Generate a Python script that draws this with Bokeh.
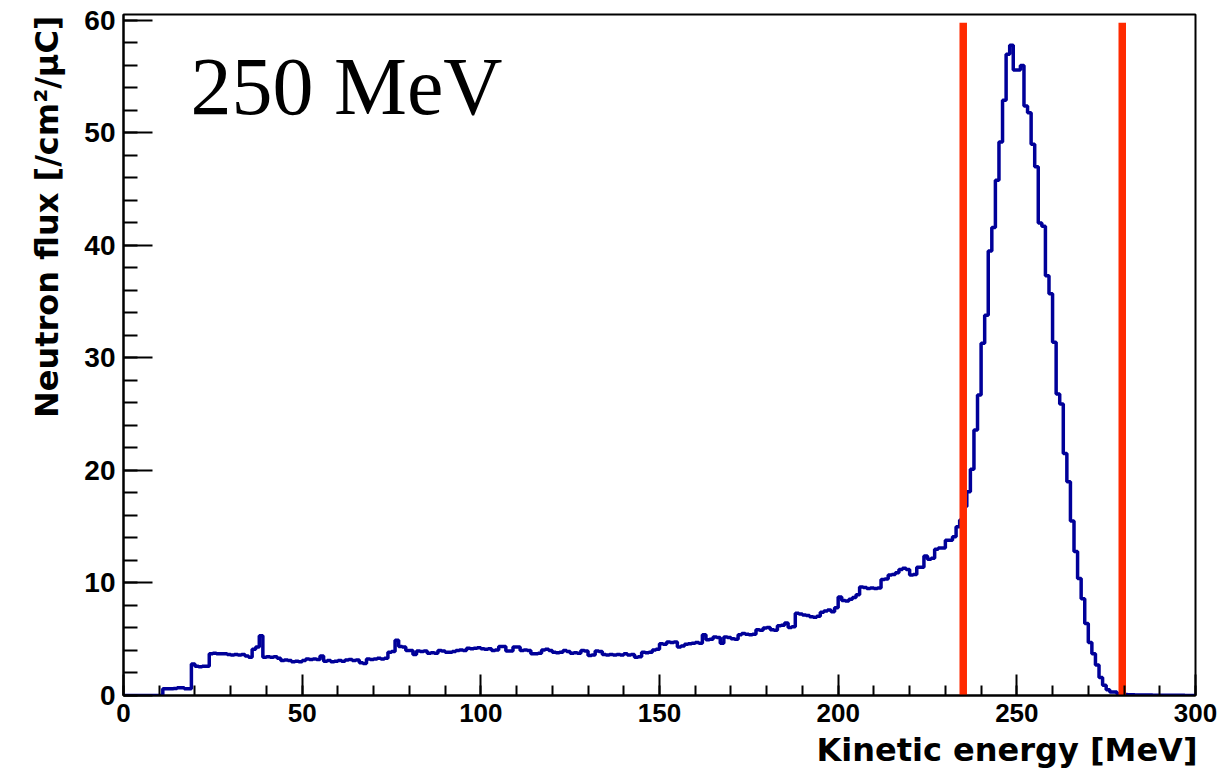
import math
from bokeh.plotting import figure
from bokeh.models import Range1d, SingleIntervalTicker, Label, Title
from bokeh.embed import file_html
from bokeh.resources import INLINE

# ---------------- data ----------------
beam_label = "250 MeV"
x_title = "Kinetic energy [MeV]"
y_title = "Neutron flux [/cm\u00b2/\u03bcC]"

x_min, x_max = 0, 300
bin_width = 1
bin_lo = list(range(x_min, x_max, bin_width))

flux = [
    0, 0, 0, 0, 0, 0, 0, 0, 0, 0,
    0, 0.6, 0.6, 0.6, 0.62, 0.68, 0.68, 0.6, 0.6, 2.8,
    2.6, 2.55, 2.6, 2.6, 3.7, 3.75, 3.7, 3.7, 3.7, 3.65,
    3.6, 3.65, 3.6, 3.65, 3.5, 3.4, 4.1, 4.3, 5.3, 3.4,
    3.45, 3.4, 3.45, 3.3, 3.1, 3.15, 3.1, 3.0, 3.05, 3.0,
    3.1, 3.25, 3.2, 3.25, 3.2, 3.5, 3.05, 3.1, 3.0, 3.05,
    3.1, 3.05, 3.15, 3.2, 3.1, 3.15, 2.9, 2.85, 3.25, 3.2,
    3.25, 3.3, 3.25, 3.3, 3.85, 3.9, 4.9, 4.35, 4.3, 4.0,
    4.0, 3.65, 3.95, 3.9, 3.95, 3.75, 3.8, 3.75, 4.0, 3.95,
    3.85, 3.85, 3.9, 4.0, 4.05, 4.0, 4.2, 4.15, 4.2, 4.25,
    4.15, 4.1, 4.15, 4.0, 4.05, 4.35, 4.35, 3.95, 3.95, 4.3,
    4.3, 4.0, 4.05, 4.0, 3.7, 3.7, 3.75, 4.05, 4.1, 4.0,
    3.85, 3.8, 3.85, 4.0, 3.9, 3.75, 3.8, 3.75, 4.0, 3.95,
    3.55, 3.6, 3.95, 3.9, 3.65, 3.6, 3.65, 3.6, 3.65, 3.6,
    3.7, 3.6, 3.65, 3.4, 3.45, 3.85, 3.8, 3.85, 4.05, 4.1,
    4.6, 4.55, 4.75, 4.7, 4.75, 4.3, 4.4, 4.55, 4.6, 4.65,
    4.7, 4.65, 5.4, 4.95, 5.0, 5.2, 5.15, 4.65, 5.2, 5.15,
    5.05, 5.0, 5.4, 5.5, 5.45, 5.4, 5.45, 5.85, 5.8, 6.0,
    6.05, 5.85, 5.8, 6.2, 6.25, 6.45, 6.05, 6.1, 7.3, 7.25,
    7.15, 7.1, 7.0, 6.95, 7.05, 7.4, 7.5, 7.6, 7.45, 7.8,
    8.75, 8.45, 8.4, 8.55, 8.7, 8.95, 9.65, 9.6, 9.5, 9.55,
    9.5, 9.55, 10.3, 10.35, 10.7, 10.75, 10.9, 11.2, 11.3, 11.2,
    10.7, 10.75, 11.4, 11.4, 12.4, 12.1, 12.2, 13.0, 13.1, 13.1,
    13.8, 13.8, 14.1, 15.0, 15.6, 16.8, 18.1, 20.1, 23.6, 26.7,
    31.3, 33.8, 39.5, 41.6, 45.8, 49.2, 52.9, 57.0, 57.8, 55.6,
    55.6, 56.0, 52.4, 51.8, 49.0, 47.0, 42.0, 41.7, 37.3, 35.7,
    31.4, 26.8, 25.9, 21.5, 19.0, 15.5, 12.8, 10.4, 8.6, 6.4,
    4.7, 3.7, 2.7, 1.6, 0.9, 0.5, 0.3, 0.3, 0.15, 0.1,
    0.08, 0.06, 0.06, 0.05, 0.05, 0.04, 0.04, 0.04, 0.03, 0.03,
    0.03, 0.03, 0.02, 0.02, 0.02, 0.02, 0.02, 0.01, 0.01, 0.01,
]

cut_energies = [235, 279.5]
cut_top = 59.8

y_min, y_max = 0, 60.53
x_major, x_minor_n = 50, 5
y_major, y_minor_n = 10, 5

# ---------------- figure ----------------
W, H = 1222, 773
LEFT, RIGHT, TOP, BOTTOM = 123, 27, 14, 78

p = figure(width=W, height=H, output_backend="svg", toolbar_location=None,
           x_range=Range1d(x_min, x_max), y_range=Range1d(y_min, y_max),
           min_border_left=LEFT, min_border_right=RIGHT,
           min_border_top=TOP, min_border_bottom=BOTTOM)
p.background_fill_color = "white"
p.border_fill_color = "white"
p.xgrid.visible = False
p.ygrid.visible = False
p.outline_line_color = "black"
p.outline_line_width = 2

p.xaxis.ticker = SingleIntervalTicker(interval=x_major, num_minor_ticks=x_minor_n)
p.yaxis.ticker = SingleIntervalTicker(interval=y_major, num_minor_ticks=y_minor_n)
for ax in (p.xaxis[0], p.yaxis[0]):
    ax.axis_line_color = "black"
    ax.axis_line_width = 2
    ax.major_tick_line_color = "black"
    ax.major_tick_line_width = 2
    ax.minor_tick_line_color = "black"
    ax.minor_tick_line_width = 2
    ax.major_tick_out = 0
    ax.minor_tick_out = 0
    ax.major_label_text_font = "Liberation Sans"
    ax.major_label_text_font_style = "bold"
    ax.major_label_text_color = "black"
    ax.axis_label = None

p.xaxis.major_tick_in = 21
p.xaxis.minor_tick_in = 10
p.xaxis.major_label_text_font_size = "26px"
p.xaxis.major_label_standoff = 8
p.yaxis.major_tick_in = 29
p.yaxis.minor_tick_in = 14
p.yaxis.major_label_text_font_size = "28px"
p.yaxis.major_label_standoff = 8

# histogram outline
p.step(x=bin_lo + [x_max], y=flux + [flux[-1]], mode="after",
       line_color="#000099", line_width=3.5)

# cut lines
p.segment(x0=cut_energies, y0=[y_min] * len(cut_energies),
          x1=cut_energies, y1=[cut_top] * len(cut_energies),
          line_color="#ff2a00", line_width=7.5)

# axis titles as side panels, aligned to the far end of each axis
p.add_layout(Title(text=x_title, align="right", text_font="DejaVu Sans",
                   text_font_style="bold", text_font_size="32px",
                   text_color="black", standoff=9, offset=-2), "below")
p.add_layout(Title(text=y_title, align="right", text_font="DejaVu Sans",
                   text_font_style="bold", text_font_size="32px",
                   text_color="black", standoff=31, offset=1), "left")

# pixel -> data helpers for the in-frame label
frame_w = W - LEFT - RIGHT
frame_h = H - TOP - BOTTOM
def dx(px):
    return x_min + (px - LEFT) * (x_max - x_min) / frame_w
def dy(py):
    return y_min + (H - BOTTOM - py) * (y_max - y_min) / frame_h

p.add_layout(Label(x=dx(190), y=dy(86), text=beam_label, text_align="left",
                   text_baseline="alphabetic", text_font="Liberation Serif",
                   text_font_size="82px", text_color="black"))

open("out.html", "w").write(file_html(p, INLINE))
